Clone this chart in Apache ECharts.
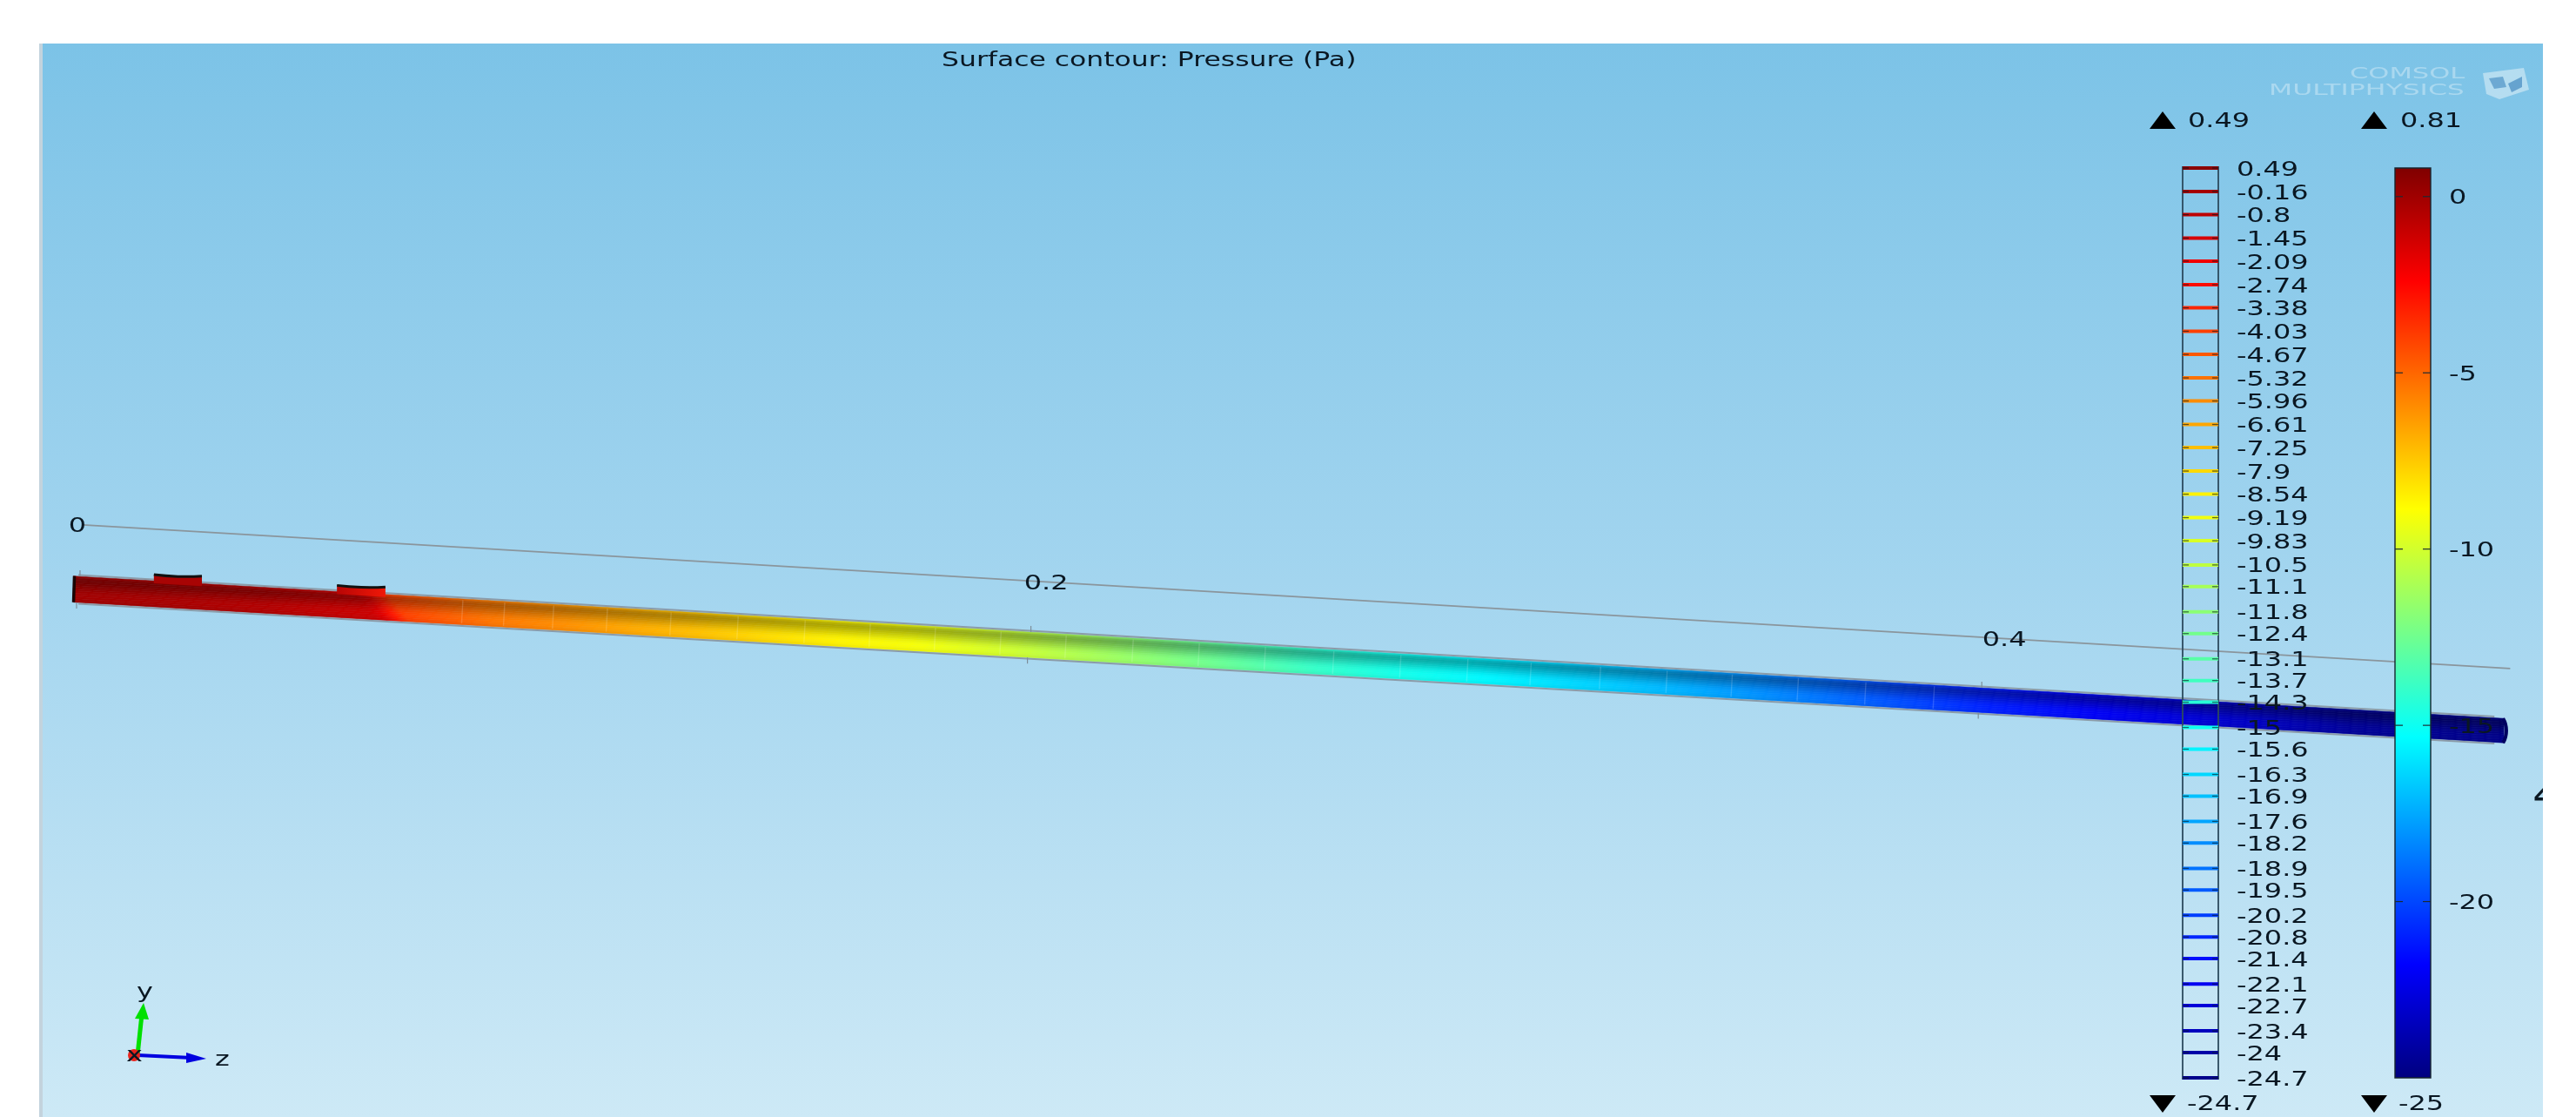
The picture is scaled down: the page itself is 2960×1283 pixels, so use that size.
<!DOCTYPE html>
<html>
<head>
<meta charset="utf-8">
<style>html,body{margin:0;padding:0;background:#fff}#main{width:2960px;height:1283px}</style>
<script src="https://cdn.jsdelivr.net/npm/echarts@6/dist/echarts.min.js"></script>
</head>
<body>
<div id="main"></div>
<script>
// pressure read along the pipe (z in m, p in Pa)
var stationZ = [-0.001,0.0156,0.0384,0.0604,0.0626,0.065,0.0674,0.0714,0.0857,0.1007,0.1153,0.13,0.1446,0.1593,0.1757,0.194,0.2215,0.2398,0.2581,0.2764,0.2947,0.313,0.3313,0.3496,0.3679,0.3862,0.4009,0.4228,0.4412,0.4595,0.4778,0.5102];
var stationP = [-0.1,-0.2,-0.5,-1.1,-1.6,-3,-4,-4.4,-5.4,-6,-6.7,-7.3,-8,-8.6,-9.1,-10,-11.6,-12.7,-13.9,-14.8,-15.5,-16.3,-17.1,-18,-19,-20.1,-21,-22,-22.7,-23.5,-24.4,-24.8];
var meshZ = [0.0809,0.0897,0.1,0.1113,0.1247,0.1388,0.1529,0.1666,0.1803,0.1941,0.2078,0.2219,0.2358,0.2497,0.2641,0.2782,0.2923,0.3056,0.3202,0.3342,0.3479,0.3618,0.376,0.3904];
var bumpZ = [[0.0159,0.026],[0.0544,0.0646]];
var axisTicks = [0,0.2,0.4];
var axisLabels = ['0','0.2','0.4'];

// legends
var contourLevels = [0.49,-0.16,-0.8,-1.45,-2.09,-2.74,-3.38,-4.03,-4.67,-5.32,-5.96,-6.61,-7.25,-7.9,-8.54,-9.19,-9.83,-10.5,-11.1,-11.8,-12.4,-13.1,-13.7,-14.3,-15,-15.6,-16.3,-16.9,-17.6,-18.2,-18.9,-19.5,-20.2,-20.8,-21.4,-22.1,-22.7,-23.4,-24,-24.7];
var barTicks = [0,-5,-10,-15,-20];
var barMax = 0.81, barMin = -25;

var TEXT = '#0a1722', FONT = 'DejaVu Sans', STRETCH = 1.37, FS = 23.3;
var gfx = echarts.graphic;

// jet colormap between barMin and barMax
var jetStops = ['#00007f','#0000ff','#00ffff','#ffff00','#ff0000','#7f0000'];
var jetPos = [0,0.125,0.375,0.625,0.875,1];
function jet(p) {
    var t = (p - barMin) / (barMax - barMin);
    t = Math.max(0, Math.min(1, t));
    for (var i = 1; i < jetPos.length; i++) {
        if (t <= jetPos[i]) {
            return echarts.color.lerp((t - jetPos[i-1]) / (jetPos[i] - jetPos[i-1]), [jetStops[i-1], jetStops[i]]);
        }
    }
    return jetStops[5];
}
function shade(c, f) {
    var v = echarts.color.parse(c);
    return 'rgb(' + Math.round(v[0]*f) + ',' + Math.round(v[1]*f) + ',' + Math.round(v[2]*f) + ')';
}

// pipe runs slightly downhill on screen, same unit as z
var tubeY0 = 0.11477, tubeTilt = 0.0582, tubeHalf0 = 0.00275, tubeHalf1 = 0.00256;
var railY0 = 0.1012, railTilt = 0.0598, railEnd = 0.505;
var zEnd = stationZ[stationZ.length-1], zStart = stationZ[0];
function tubeY(z) { return tubeY0 + tubeTilt * z; }
function tubeHalf(z) { return tubeHalf0 + (tubeHalf1 - tubeHalf0) * (z - zStart) / (zEnd - zStart); }

var bandShade = [0.84,0.72,0.68,0.7,0.75,0.8,0.85,0.9,0.95,0.98,1,1,0.99,0.96];

function renderTubeBand(params, api) {
    var i = api.value(0), n = bandShade.length, f = api.value(1);
    var a = -1 + 2 * i / n, b = -1 + 2 * (i + 1) / n;
    function pt(z, k) { return api.coord([z, tubeY(z) + k * tubeHalf(z)]); }
    var p0 = pt(zStart, a), p1 = pt(zEnd, a), p2 = pt(zEnd, b), p3 = pt(zStart, b);
    var skew = (i / n - 0.5) * 27;
    var stops = stationZ.map(function (z, k) {
        return {offset: (z - zStart) / (zEnd - zStart), color: shade(jet(stationP[k]), f)};
    });
    var fill = new gfx.LinearGradient(p0[0] + skew, 0, p1[0] + skew, 0, stops, true);
    return {type: 'polygon', shape: {points: [p0, p1, p2, p3]}, style: {fill: fill, stroke: fill, lineWidth: 0.6}};
}

function renderDetails(params, api) {
    var kids = [];
    function pt(z, k, px) {
        var c = api.coord([z, tubeY(z) + k * tubeHalf(z)]);
        return [c[0], c[1] + (px || 0)];
    }
    // mesh seams
    meshZ.forEach(function (z) {
        kids.push({type: 'line', shape: {x1: pt(z,-0.9)[0], y1: pt(z,-0.9)[1], x2: pt(z,0.9)[0]-1.5, y2: pt(z,0.9)[1]},
            style: {stroke: 'rgba(255,255,255,0.16)', lineWidth: 1.4}});
    });
    // edge rails
    [[-1,-1.5],[1,1.5]].forEach(function (r) {
        var a = pt(zStart + 0.001, r[0], r[1]), b = pt(zEnd - 0.002, r[0], r[1]);
        kids.push({type: 'line', shape: {x1: a[0], y1: a[1], x2: b[0], y2: b[1]}, style: {stroke: '#8b9ba8', lineWidth: 2}});
    });
    // ticks
    axisTicks.forEach(function (z) {
        var t = pt(z, -1), u = pt(z, 1);
        kids.push({type: 'line', shape: {x1: t[0]+2, y1: t[1]-7, x2: t[0]+2, y2: t[1]}, style: {stroke: '#7d8d99', lineWidth: 1.2}});
        kids.push({type: 'line', shape: {x1: u[0]-2, y1: u[1], x2: u[0]-2, y2: u[1]+7}, style: {stroke: '#7d8d99', lineWidth: 1.2}});
    });
    // bumps on top of the pipe
    bumpZ.forEach(function (b, k) {
        var l = pt(b[0], -1), r = pt(b[1], -1), m = pt((b[0]+b[1])/2, -1);
        var top = [[l[0], l[1]-7], [m[0], m[1]-6.5], [r[0], r[1]-8.5]];
        var fill = k ? new gfx.LinearGradient(l[0], 0, r[0], 0, [{offset:0,color:'#b80505'},{offset:1,color:'#f01808'}], true) : '#a80404';
        kids.push({type: 'polygon', shape: {points: [[l[0], l[1]+3]].concat(top, [[r[0], r[1]+3]])}, style: {fill: fill}});
        kids.push({type: 'polyline', shape: {points: top, smooth: 0.5}, style: {fill: 'none', stroke: '#111', lineWidth: 3}});
    });
    // end caps
    var s0 = pt(zStart,-1), s1 = pt(zStart,1);
    kids.push({type: 'line', shape: {x1: s0[0]+1, y1: s0[1], x2: s1[0], y2: s1[1]}, style: {stroke: '#1a0505', lineWidth: 3.5}});
    var e0 = pt(zEnd,-1), e1 = pt(zEnd,1);
    kids.push({type: 'bezierCurve', shape: {x1: e0[0]-1, y1: e0[1], cpx1: e0[0]+4, cpy1: e0[1]+8, cpx2: e1[0]+4, cpy2: e1[1]-8, x2: e1[0]-1, y2: e1[1]},
        style: {fill: 'none', stroke: '#000060', lineWidth: 4}});
    return {type: 'group', children: kids};
}

function renderRail(params, api) {
    var a = api.coord([0, railY0]), b = api.coord([railEnd, railY0 + railTilt * railEnd]);
    return {type: 'line', shape: {x1: a[0]+6, y1: a[1], x2: b[0], y2: b[1]}, style: {stroke: '#8a959c', lineWidth: 1.6}};
}

function stretched(text, x, y, extra) {
    return Object.assign({type: 'text', x: x, y: y + 2.5, scaleX: STRETCH, z2: 5, silent: true,
        style: {text: text, fontFamily: FONT, fontSize: FS, fill: TEXT, align: 'left', verticalAlign: 'middle'}}, extra || {});
}

function renderRailLabel(params, api) {
    var z = api.value(0), c = api.coord([z, railY0 + railTilt * z]);
    // the 0.2 label sits a little right of its place on the rail
    var nudge = axisLabels[params.dataIndex] === '0.2' ? 6 : 0;
    return stretched(axisLabels[params.dataIndex], c[0] + nudge, c[1], {style: {text: axisLabels[params.dataIndex], fontFamily: FONT, fontSize: FS, fill: TEXT, align: 'center', verticalAlign: 'middle'}});
}

function renderBar(params, api) {
    var a = api.coord([0, barMax]), b = api.coord([1, barMin]);
    var stops = jetStops.map(function (c, i) { return {offset: 1 - jetPos[i], color: c}; }).reverse();
    return {type: 'rect', shape: {x: a[0], y: a[1], width: b[0]-a[0], height: b[1]-a[1]},
        style: {fill: new gfx.LinearGradient(0, 0, 0, 1, stops), stroke: '#16242e', lineWidth: 1.4}};
}

function renderBarTick(params, api) {
    var v = api.value(0), a = api.coord([0, v]), b = api.coord([1, v]);
    return {type: 'group', children: [
        {type: 'line', shape: {x1: a[0], y1: a[1], x2: a[0]+9, y2: a[1]}, style: {stroke: '#1c2a33', lineWidth: 1.2}},
        {type: 'line', shape: {x1: b[0]-9, y1: b[1], x2: b[0], y2: b[1]}, style: {stroke: '#1c2a33', lineWidth: 1.2}},
        stretched(String(v), b[0] + 21, a[1])
    ]};
}

function renderContourFrame(params, api) {
    var a = api.coord([0, contourLevels[0]]), b = api.coord([1, contourLevels[contourLevels.length-1]]);
    return {type: 'rect', shape: {x: a[0], y: a[1]-1, width: b[0]-a[0], height: b[1]-a[1]+2},
        style: {fill: 'none', stroke: '#2c4a5e', lineWidth: 1.8}};
}

function renderContourLevel(params, api) {
    var v = api.value(0), a = api.coord([0, v]), b = api.coord([1, v]);
    return {type: 'group', children: [
        {type: 'line', shape: {x1: a[0], y1: a[1], x2: b[0], y2: b[1]}, style: {stroke: jet(v), lineWidth: 4}},
        {type: 'line', shape: {x1: a[0], y1: a[1], x2: a[0]+7, y2: a[1]}, style: {stroke: 'rgba(10,30,40,0.65)', lineWidth: 1.3}},
        {type: 'line', shape: {x1: b[0]-7, y1: b[1], x2: b[0], y2: b[1]}, style: {stroke: 'rgba(10,30,40,0.65)', lineWidth: 1.3}},
        stretched(String(v), b[0] + 21, a[1])
    ]};
}

function hiddenAxis(idx, min, max, inverse) {
    return {type: 'value', gridIndex: idx, min: min, max: max, inverse: !!inverse, show: false};
}

function triangle(x, y, up) {
    return {type: 'polygon', shape: {points: up ? [[x,y+20],[x+15,y],[x+30,y+20]] : [[x,y],[x+30,y],[x+15,y+20]]}, style: {fill: '#000'}};
}
function label(text, x, y, extra) {
    return {type: 'text', x: x, y: y + 2.5, scaleX: STRETCH, z: 20, style: Object.assign({text: text, fontFamily: FONT, fontSize: FS, fill: TEXT, align: 'left', verticalAlign: 'middle'}, extra || {})};
}

var myChart = echarts.init(document.getElementById('main'), null, {renderer: 'canvas'});
var option = {
    animation: false,
    backgroundColor: '#fff',
    grid: [
        {left: 49, top: 50, width: 2873, height: 1233, show: true, borderWidth: 0,
            backgroundColor: new gfx.LinearGradient(0, 0, 0, 1, [{offset: 0, color: '#7cc3e7'}, {offset: 0.5, color: '#a3d5ef'}, {offset: 1, color: '#cde9f6'}])},
        {left: 2508, top: 193, width: 41, height: 1045},
        {left: 2752, top: 193, width: 41, height: 1045}
    ],
    xAxis: [
        hiddenAxis(0, -0.0075, 0.5184),   // near side of the pipe
        hiddenAxis(0, -0.00723, 0.5118),  // far rail with the axis numbers
        hiddenAxis(1, 0, 1),
        hiddenAxis(2, 0, 1)
    ],
    yAxis: [
        hiddenAxis(0, 0, 0.2257, true),
        hiddenAxis(1, contourLevels[contourLevels.length-1], contourLevels[0]),
        hiddenAxis(2, barMin, barMax)
    ],
    graphic: [
        {type: 'rect', shape: {x: 45, y: 50, width: 4, height: 1233}, style: {fill: '#c3d3dd'}, z: 1},
        Object.assign(label('Surface contour: Pressure (Pa)', 1082, 67), {scaleX: 1.35}),
        // axis triad
        {type: 'line', shape: {x1: 158, y1: 1212, x2: 163, y2: 1165}, style: {stroke: '#00e000', lineWidth: 5}, z: 20},
        {type: 'polygon', shape: {points: [[155,1170],[165,1152],[171,1171]]}, style: {fill: '#00e000'}, z: 20},
        {type: 'line', shape: {x1: 158, y1: 1212, x2: 220, y2: 1215}, style: {stroke: '#0000e0', lineWidth: 4}, z: 20},
        {type: 'polygon', shape: {points: [[214,1209],[237,1216],[214,1221]]}, style: {fill: '#0000e0'}, z: 20},
        {type: 'circle', shape: {cx: 154, cy: 1212, r: 7}, style: {fill: '#e8241c'}, z: 20},
        label('x', 145, 1210),
        label('y', 157, 1137),
        label('z', 247, 1215),
        // legend extremes
        Object.assign(triangle(2470, 128, true), {z: 20}),
        label('0.49', 2514, 137),
        Object.assign(triangle(2713, 128, true), {z: 20}),
        label('0.81', 2758, 137),
        Object.assign(triangle(2470, 1258, false), {z: 20}),
        label('-24.7', 2513, 1266),
        Object.assign(triangle(2713, 1258, false), {z: 20}),
        label('-25', 2756, 1266),
        // vendor mark
        {type: 'text', x: 2700, y: 86, scaleX: 1.8, z: 20, style: {text: 'COMSOL', fontFamily: FONT, fontSize: 17, fill: 'rgba(255,255,255,0.34)', align: 'left', verticalAlign: 'middle'}},
        {type: 'text', x: 2607, y: 105, scaleX: 1.85, z: 20, style: {text: 'MULTIPHYSICS', fontFamily: FONT, fontSize: 17, fill: 'rgba(255,255,255,0.34)', align: 'left', verticalAlign: 'middle'}},
        {type: 'polygon', shape: {points: [[2853,84],[2900,78],[2906,103],[2872,114],[2857,108]]}, style: {fill: 'rgba(235,245,250,0.5)'}, z: 20},
        {type: 'polygon', shape: {points: [[2860,90],[2876,88],[2880,100],[2866,102]]}, style: {fill: 'rgba(50,125,185,0.55)'}, z: 21},
        {type: 'polygon', shape: {points: [[2882,96],[2898,88],[2898,100],[2886,106]]}, style: {fill: 'rgba(50,125,185,0.6)'}, z: 21},
        // the clipped label running off the right edge of the view
        label('4', 2911, 914, {fontWeight: 'bold', fontSize: 24}),
        {type: 'rect', shape: {x: 2922, y: 0, width: 38, height: 1283}, style: {fill: '#fff'}, z: 30}
    ],
    series: [
        {type: 'custom', xAxisIndex: 1, yAxisIndex: 0, z: 2, silent: true, renderItem: renderRail, data: [[0]]},
        {type: 'custom', xAxisIndex: 1, yAxisIndex: 0, z: 6, silent: true, renderItem: renderRailLabel, data: axisTicks.map(function (t) { return [t]; })},
        {type: 'custom', xAxisIndex: 0, yAxisIndex: 0, z: 3, silent: true, renderItem: renderTubeBand,
            data: bandShade.map(function (f, i) { return [i, f]; })},
        {type: 'custom', xAxisIndex: 0, yAxisIndex: 0, z: 4, silent: true, renderItem: renderDetails, data: [[0]]},
        {type: 'custom', xAxisIndex: 2, yAxisIndex: 1, z: 7, silent: true, renderItem: renderContourFrame, data: [[0]]},
        {type: 'custom', xAxisIndex: 2, yAxisIndex: 1, z: 8, silent: true, renderItem: renderContourLevel, data: contourLevels.map(function (v) { return [v]; })},
        {type: 'custom', xAxisIndex: 3, yAxisIndex: 2, z: 7, silent: true, renderItem: renderBar, data: [[0]]},
        {type: 'custom', xAxisIndex: 3, yAxisIndex: 2, z: 8, silent: true, renderItem: renderBarTick, data: barTicks.map(function (v) { return [v]; })}
    ]
};
myChart.setOption(option);
</script>
</body>
</html>
